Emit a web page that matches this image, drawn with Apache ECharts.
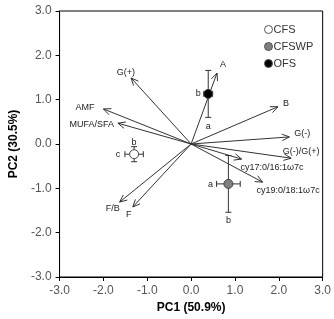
<!DOCTYPE html>
<html>
<head>
<meta charset="utf-8">
<script src="https://cdn.jsdelivr.net/npm/echarts@6/dist/echarts.min.js"></script>
<style>
  html, body { margin: 0; padding: 0; background: #fff; }
  #chart { width: 334px; height: 319px; }
</style>
</head>
<body>
<div id="chart"></div>
<script>
// loading vectors (PC1, PC2)
var arrowNames = ['A', 'B', 'G(-)', 'G(-)/G(+)', 'cy17:0/16:1ω7c', 'cy19:0/18:1ω7c', 'G(+)', 'AMF', 'MUFA/SFA', 'F/B', 'F'];
var arrowPC1 = [0.59, 1.98, 2.24, 2.28, 1.15, 1.63, -1.37, -2.00, -1.67, -1.63, -1.33];
var arrowPC2 = [1.60, 0.84, 0.16, -0.32, -0.34, -0.86, 1.49, 0.79, 0.47, -1.31, -1.42];

// treatment scores with error bars
var groups = ['CFS', 'CFSWP', 'OFS'];
var scorePC1 = [-1.30, 0.85, 0.39];
var scorePC2 = [-0.23, -0.90, 1.13];
var errPC1 = [0.21, 0.27, 0.10];
var errPC2 = [0.17, 0.64, 0.53];
var letterPC1 = ['c', 'a', 'b'];
var letterPC2 = ['b', 'b', 'a'];

// label placement (pixels) for each arrow
var arrowLabelPos = {
  'A': [3, -9, 'left', 'middle'],
  'B': [5, -3, 'left', 'middle'],
  'G(-)': [5, -3, 'left', 'middle'],
  'G(-)/G(+)': [10, -7, 'center', 'middle'],
  'cy17:0/16:1ω7c': [-1, 8, 'left', 'middle'],
  'cy19:0/18:1ω7c': [-6, 8, 'left', 'middle'],
  'G(+)': [4, -5, 'right', 'middle'],
  'AMF': [-9, -1, 'right', 'middle'],
  'MUFA/SFA': [-4, 1, 'right', 'middle'],
  'F/B': [0, 6, 'right', 'middle'],
  'F': [-4, 8, 'center', 'middle']
};
var letterPos = [
  { x: [-16, 0], y: [0, -12] },
  { x: [-18, 1], y: [0, 37] },
  { x: [-10, 0], y: [0, 33] }
];

var colors = ['#ffffff', '#7f7f7f', '#000000'];
var lineColor = '#333333';

var arrowData = arrowNames.map(function (n, i) { return [arrowPC1[i], arrowPC2[i], n]; });
var errData = groups.map(function (g, i) { return [scorePC1[i], scorePC2[i], errPC1[i], errPC2[i], i]; });

var chart = echarts.init(document.getElementById('chart'));

function arrowItem(params, api) {
  var o = api.coord([0, 0]);
  var t = api.coord([api.value(0), api.value(1)]);
  var a = Math.atan2(t[1] - o[1], t[0] - o[0]);
  var L = 8, s = 0.42;
  var p1 = [t[0] - L * Math.cos(a - s), t[1] - L * Math.sin(a - s)];
  var p2 = [t[0] - L * Math.cos(a + s), t[1] - L * Math.sin(a + s)];
  var name = arrowNames[params.dataIndex];
  var lp = arrowLabelPos[name];
  return {
    type: 'group',
    children: [
      { type: 'line', shape: { x1: o[0], y1: o[1], x2: t[0], y2: t[1] }, style: { stroke: lineColor, lineWidth: 1 } },
      { type: 'polyline', shape: { points: [p1, t, p2] }, style: { stroke: lineColor, lineWidth: 1, fill: null } },
      { type: 'text', x: t[0] + lp[0], y: t[1] + lp[1],
        style: { text: name, align: lp[2], verticalAlign: lp[3], fill: '#222', font: '9px "Liberation Sans", Arial, sans-serif' } }
    ]
  };
}

function errItem(params, api) {
  var i = params.dataIndex;
  var x = api.value(0), y = api.value(1), ex = api.value(2), ey = api.value(3);
  var l = api.coord([x - ex, y]), r = api.coord([x + ex, y]);
  var tp = api.coord([x, y + ey]), bt = api.coord([x, y - ey]);
  var c = api.coord([x, y]);
  var cap = 3;
  var st = { stroke: lineColor, lineWidth: 1 };
  var lx = letterPos[i].x, ly = letterPos[i].y;
  var font = '9px "Liberation Sans", Arial, sans-serif';
  return {
    type: 'group',
    children: [
      { type: 'line', shape: { x1: l[0], y1: l[1], x2: r[0], y2: r[1] }, style: st },
      { type: 'line', shape: { x1: l[0], y1: l[1] - cap, x2: l[0], y2: l[1] + cap }, style: st },
      { type: 'line', shape: { x1: r[0], y1: r[1] - cap, x2: r[0], y2: r[1] + cap }, style: st },
      { type: 'line', shape: { x1: tp[0], y1: tp[1], x2: bt[0], y2: bt[1] }, style: st },
      { type: 'line', shape: { x1: tp[0] - cap, y1: tp[1], x2: tp[0] + cap, y2: tp[1] }, style: st },
      { type: 'line', shape: { x1: bt[0] - cap, y1: bt[1], x2: bt[0] + cap, y2: bt[1] }, style: st },
      { type: 'text', x: c[0] + lx[0], y: c[1] + lx[1], style: { text: letterPC1[i], align: 'center', verticalAlign: 'middle', fill: '#222', font: font } },
      { type: 'text', x: c[0] + ly[0], y: c[1] + ly[1], style: { text: letterPC2[i], align: 'center', verticalAlign: 'middle', fill: '#222', font: font } }
    ]
  };
}

var axisCommon = {
  type: 'value',
  min: -3,
  max: 3,
  interval: 1,
  splitLine: { show: false },
  axisLine: { show: true, onZero: false, lineStyle: { color: '#000', width: 1 } },
  axisTick: { show: true, length: 4, lineStyle: { color: '#000' } },
  axisLabel: {
    color: '#555',
    fontSize: 12,
    fontFamily: 'Liberation Sans, Arial, sans-serif',
    formatter: function (v) { return v.toFixed(1); }
  },
  nameLocation: 'middle',
  nameTextStyle: { color: '#000', fontSize: 12, fontWeight: 'bold', fontFamily: 'Liberation Sans, Arial, sans-serif' }
};

var series = [
  { type: 'custom', renderItem: arrowItem, data: arrowData, silent: true, z: 2 },
  { type: 'custom', renderItem: errItem, data: errData, silent: true, z: 3 }
];
groups.forEach(function (g, i) {
  series.push({
    name: g,
    type: 'scatter',
    symbol: 'circle',
    symbolSize: 9,
    z: 4,
    itemStyle: { color: colors[i], borderColor: '#444', borderWidth: 1, opacity: 1 },
    data: [[scorePC1[i], scorePC2[i]]]
  });
});

chart.setOption({
  animation: false,
  backgroundColor: '#fff',
  grid: { left: 52, right: 6, top: 11, bottom: 42, show: true, borderColor: '#000', borderWidth: 1 },
  legend: {
    data: groups,
    orient: 'vertical',
    left: 259,
    top: 19,
    itemWidth: 8,
    itemHeight: 8,
    itemGap: 6,
    icon: 'circle',
    itemStyle: { borderWidth: 1, borderColor: '#555' },
    textStyle: { color: '#333', fontSize: 11, fontFamily: 'Liberation Sans, Arial, sans-serif', padding: [0, 0, 0, -4] }
  },
  xAxis: Object.assign({}, axisCommon, { name: 'PC1 (50.9%)', nameGap: 24 }),
  yAxis: Object.assign({}, axisCommon, { name: 'PC2 (30.5%)', nameGap: 30 }),
  series: series
});
</script>
</body>
</html>
